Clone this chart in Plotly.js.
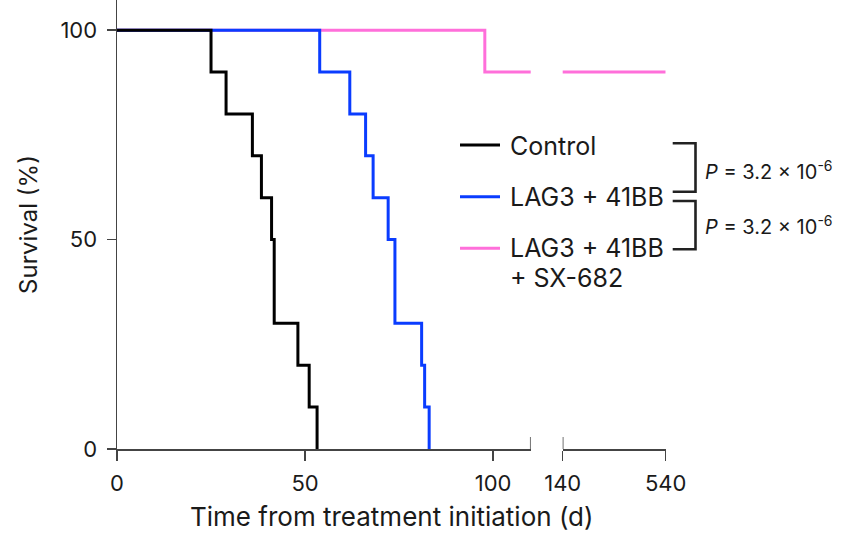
<!DOCTYPE html>
<html>
<head>
<meta charset="utf-8">
<script src="https://cdn.plot.ly/plotly-3.0.1.min.js"></script>
<style>html,body{margin:0;padding:0;background:#fff;}#chart{width:859px;height:534px;}</style>
</head>
<body>
<div id="chart"></div>
<script>
// ---- Data (Kaplan–Meier step curves) ----
const controlDays = [0, 25, 29, 36, 38.4, 41.1, 41.8, 48.1, 51.1, 53.2];
const controlSurv = [100, 90, 80, 70, 60, 50, 30, 20, 10, 0];
const lagDays = [0, 53.9, 61.9, 66.1, 68.1, 72.1, 73.9, 81, 81.8, 83];
const lagSurv = [100, 90, 80, 70, 60, 50, 30, 20, 10, 0];
const sxDays = [0, 97.8, 540];
const sxSurv = [100, 90, 90];
const seriesNames = ['Control', 'LAG3 + 41BB', 'LAG3 + 41BB + SX-682'];
const xTicks1 = [0, 50, 100];
const xTickLabels1 = ['0', '50', '100'];
const xBreak = [110, 140];
const xTicks2 = [140, 540];
const xTickLabels2 = ['140', '540'];
const yTicks = [0, 50, 100];
const pText = '<i>P</i> = 3.2 × 10<sup>-6</sup>';

// ---- Layout helpers (pixel -> paper) ----
const W = 859, H = 534, ML = 117, MR = 0, MT = 0, MB = 85;
const PW = W - ML - MR, PH = H - MT - MB;
const px = v => (v - ML) / PW;
const py = v => (H - MB - v) / PH;

const FONT = 'Inter, "Noto Sans", Arial, sans-serif';
const TXT = '#1a1a1a';
const AX = '#444';
const COLORS = ['#000000', '#0a3cff', '#ff6fda'];
const LW = 3;

const traces = [
  {x: controlDays, y: controlSurv, xaxis: 'x', yaxis: 'y', name: seriesNames[0]},
  {x: lagDays, y: lagSurv, xaxis: 'x', yaxis: 'y', name: seriesNames[1]},
  {x: sxDays, y: sxSurv, xaxis: 'x', yaxis: 'y', name: seriesNames[2]},
  {x: sxDays, y: sxSurv, xaxis: 'x2', yaxis: 'y', name: seriesNames[2]}
].map((t, i) => Object.assign(t, {
  type: 'scatter', mode: 'lines', showlegend: false, hoverinfo: 'skip',
  line: {shape: 'hv', width: LW, color: COLORS[Math.min(i, 2)]}
}));
const ordered = [traces[2], traces[3], traces[1], traces[0]];

const axisCommon = {
  showgrid: false, zeroline: false, showline: true, linecolor: AX, linewidth: 1.5,
  ticks: 'outside', ticklen: 10, tickwidth: 1.5, tickcolor: AX, ticklabelstandoff: 4,
  tickfont: {family: FONT, size: 22, color: TXT}, tickmode: 'array', fixedrange: true
};

const layout = {
  width: W, height: H,
  margin: {l: ML, r: MR, t: MT, b: MB, pad: 0},
  paper_bgcolor: '#fff', plot_bgcolor: '#fff',
  font: {family: FONT, color: TXT},
  xaxis: Object.assign({}, axisCommon, {
    domain: [0, px(530.7)], range: [0, 110], anchor: 'y',
    tickvals: xTicks1, ticktext: xTickLabels1
  }),
  xaxis2: Object.assign({}, axisCommon, {
    domain: [px(562.7), px(665.7)], range: [140, 540], anchor: 'y',
    tickvals: xTicks2, ticktext: xTickLabels2
  }),
  yaxis: Object.assign({}, axisCommon, {
    domain: [0, 1], range: [0, 107.2], anchor: 'x', ticklen: 9,
    tickvals: yTicks, ticktext: yTicks.map(String), ticklabelstandoff: 5,
    title: {text: 'Survival (%)', font: {family: FONT, size: 24, color: TXT}, standoff: 16}
  }),
  shapes: [],
  annotations: []
};

// axis-break marks (cross the axis line)
[['x', xBreak[0]], ['x2', xBreak[1]]].forEach(([xr, xv]) => {
  layout.shapes.push({type: 'line', xref: xr, yref: 'y', ysizemode: 'pixel', yanchor: 0,
    x0: xv, x1: xv, y0: -11, y1: 12, line: {color: AX, width: 1.5}});
});

// legend
const legendY = [145, 196.7, 248.3];
legendY.forEach((yy, i) => {
  layout.shapes.push({type: 'line', xref: 'paper', yref: 'paper',
    x0: px(460), x1: px(500), y0: py(yy), y1: py(yy), line: {color: COLORS[i], width: LW}});
});
const legendLabels = [['Control', 146], ['LAG3 + 41BB', 196.5], ['LAG3 + 41BB', 248], ['+ SX-682', 278]];
legendLabels.forEach(([t, yy]) => {
  layout.annotations.push({text: t, xref: 'paper', yref: 'paper', x: px(508), y: py(yy),
    xanchor: 'left', yanchor: 'middle', showarrow: false,
    font: {family: FONT, size: 25, color: TXT}});
});

// brackets
const br = (y0, y1, xv) => `M ${px(672.7)} ${py(y0)} L ${px(xv)} ${py(y0)} L ${px(xv)} ${py(y1)} L ${px(672.7)} ${py(y1)}`;
layout.shapes.push({type: 'path', xref: 'paper', yref: 'paper', path: br(143.3, 191.7, 695.5), line: {color: '#222', width: 2.6}});
layout.shapes.push({type: 'path', xref: 'paper', yref: 'paper', path: br(201, 249.3, 695.5), line: {color: '#222', width: 2.6}});

// P values
[170, 226].forEach(yy => {
  layout.annotations.push({text: pText, xref: 'paper', yref: 'paper', x: px(703), y: py(yy),
    xanchor: 'left', yanchor: 'middle', showarrow: false,
    font: {family: FONT, size: 20, color: TXT}});
});

// x-axis title spanning both segments
layout.annotations.push({text: 'Time from treatment initiation (d)', xref: 'paper', yref: 'paper',
  x: px(392), y: py(516), xanchor: 'center', yanchor: 'middle', showarrow: false,
  font: {family: FONT, size: 26, color: TXT}});

Plotly.newPlot('chart', ordered, layout, {displayModeBar: false, staticPlot: true});
</script>
</body>
</html>
